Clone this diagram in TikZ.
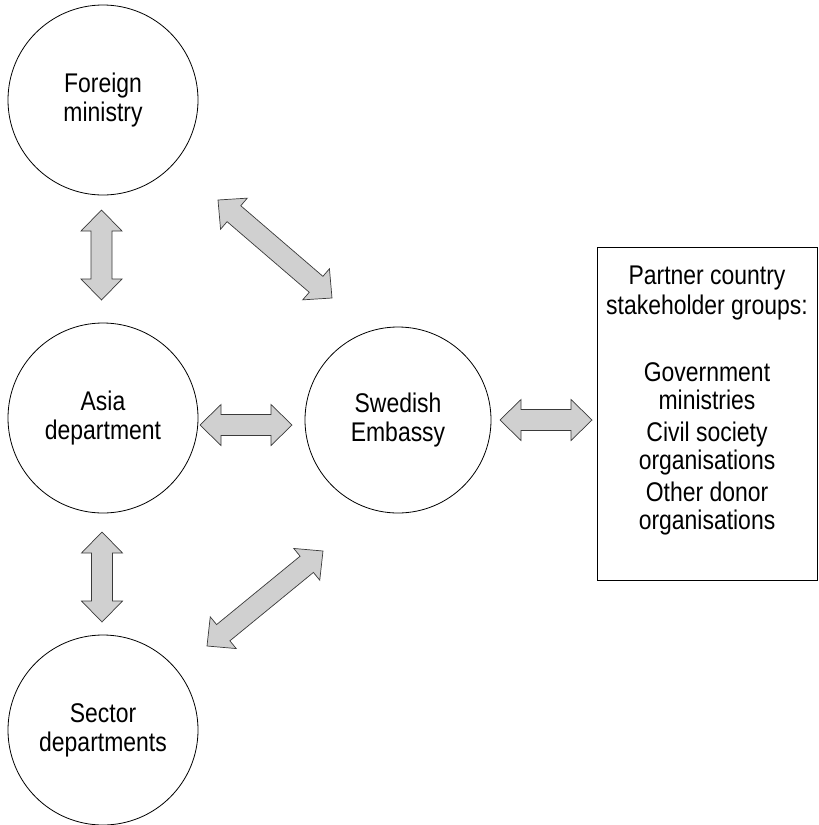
\documentclass[tikz,border=0pt]{standalone}
\usepackage{fontspec}
\setmainfont{Liberation Sans}[FakeStretch=0.85]
\usetikzlibrary{calc}
\definecolor{arrowgray}{HTML}{D0D0D0}
\definecolor{edgegray}{HTML}{3A3A3A}
\newcommand{\headlen}{21pt}
\newcommand{\headw}{20.5pt}
\newcommand{\shaftw}{10.5pt}
\newcommand{\dblarrow}[2]{%
  \coordinate (h1) at ($(#1)!\headlen!(#2)$);
  \coordinate (h2) at ($(#2)!\headlen!(#1)$);
  \draw[blockarrow] (#1) -- ($(h1)!\headw!90:(#2)$) -- ($(h1)!\shaftw!90:(#2)$)
    -- ($(h2)!\shaftw!-90:(#1)$) -- ($(h2)!\headw!-90:(#1)$) -- (#2)
    -- ($(h2)!\headw!90:(#1)$) -- ($(h2)!\shaftw!90:(#1)$)
    -- ($(h1)!\shaftw!-90:(#2)$) -- ($(h1)!\headw!-90:(#2)$) -- cycle;
}
\tikzset{
  circ/.style={circle, draw=black, line width=0.8pt, minimum size=190pt, inner sep=0pt,
    align=center, font=\fontsize{27}{29}\selectfont},
  blockarrow/.style={fill=arrowgray, draw=edgegray, line width=0.7pt, line join=miter},
  stakebox/.style={draw=black, line width=0.9pt, minimum width=220pt, minimum height=333pt, inner sep=0pt},
  boxtext/.style={align=center, font=\fontsize{27}{28}\selectfont, inner sep=0pt}
}
\begin{document}
\begin{tikzpicture}[x=1pt,y=-1pt]
\useasboundingbox (0,0) rectangle (819,825);
\node[circ] (fm) at (103,100) {Foreign\\ministry};
\node[circ] (asia) at (103,418) {Asia\\department};
\node[circ] (sector) at (103,730) {Sector\\departments};
\node[circ, minimum size=186pt] (emb) at (398,420) {Swedish\\Embassy};
\node[stakebox] (box) at (707,413.5) {};
\node[boxtext, anchor=north] (btext) at (707,266) {Partner country\\[2pt]stakeholder groups:\\[39pt]Government\\ministries\\[4pt]Civil society\\organisations\\[4pt]Other donor\\organisations};
% arrow end points
\coordinate (a1s) at (101.5,210); \coordinate (a1e) at (101.5,300);
\coordinate (a2s) at (102,532);   \coordinate (a2e) at (102,622);
\coordinate (a3s) at (200,425);   \coordinate (a3e) at (292,425);
\coordinate (a4s) at (500,420);   \coordinate (a4e) at (592,420);
\coordinate (a5s) at (218,200);   \coordinate (a5e) at (332,298);
\coordinate (a6s) at (323,551);   \coordinate (a6e) at (207,646);
\dblarrow{a1s}{a1e}
\dblarrow{a2s}{a2e}
\dblarrow{a3s}{a3e}
\dblarrow{a4s}{a4e}
\dblarrow{a5s}{a5e}
\dblarrow{a6s}{a6e}
\end{tikzpicture}
\end{document}
